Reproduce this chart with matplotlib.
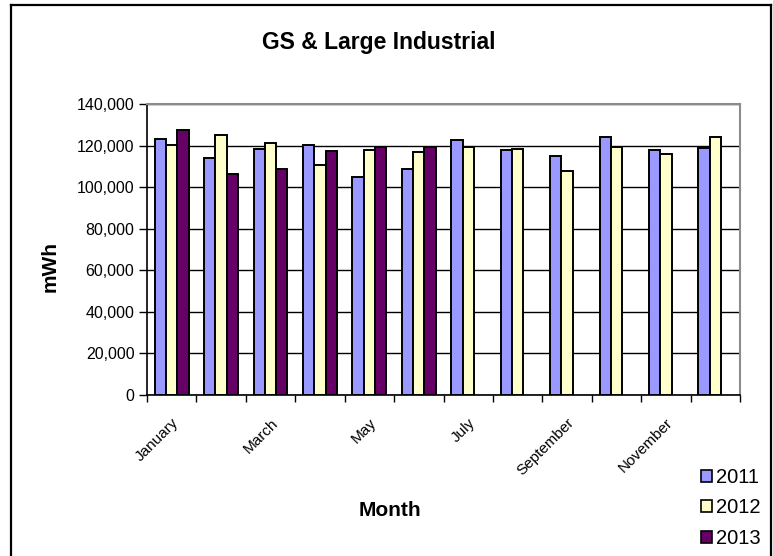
import numpy as np
import matplotlib
matplotlib.use('Agg')
from matplotlib import pyplot as plt
from matplotlib.patches import Patch
from matplotlib.lines import Line2D
from matplotlib.ticker import FuncFormatter
import matplotlib.transforms as mtransforms

plt.rcParams['font.family'] = ['Liberation Sans', 'DejaVu Sans']

months = ['January', 'February', 'March', 'April', 'May', 'June',
          'July', 'August', 'September', 'October', 'November', 'December']
tick_labels = ['January', '', 'March', '', 'May', '', 'July', '', 'September', '', 'November', '']

mwh_2011 = [123000, 113800, 118300, 120300, 104800, 108500, 122700, 117900, 115200, 123900, 117900, 118700]
mwh_2012 = [120500, 125100, 121000, 110700, 117800, 116700, 119400, 118400, 107700, 119400, 116000, 124300]
mwh_2013 = [127400, 106200, 108600, 117300, 119400, 119400]

years = ['2011', '2012', '2013']
colors = ['#9999FF', '#FFFFCC', '#660066']

fig = plt.figure(figsize=(7.73, 5.56), dpi=100)
ax = fig.add_axes([147 / 773, 1 - 395 / 556, (740 - 147) / 773, (395 - 104) / 556])

w = 0.228
x = np.arange(len(months))
series = [mwh_2011, mwh_2012, mwh_2013]
for i, vals in enumerate(series):
    xs = x[:len(vals)] + (i - 1) * w
    ax.bar(xs, vals, width=w, color=colors[i], edgecolor='black', linewidth=1.4, zorder=3)

ax.set_xlim(-0.5, 11.5)
ax.set_ylim(0, 140000)
ax.set_yticks(np.arange(0, 140001, 20000))
ax.yaxis.set_major_formatter(FuncFormatter(lambda v, p: '{:,.0f}'.format(v)))
ax.grid(axis='y', color='black', linewidth=1, zorder=0)

ax.set_xticks(x)
ax.set_xticklabels(tick_labels, rotation=45, ha='right', va='top', rotation_mode='anchor', fontsize=11)
shift = mtransforms.ScaledTranslation(-4 / 100, 0, fig.dpi_scale_trans)
for lbl in ax.get_xticklabels():
    lbl.set_transform(lbl.get_transform() + shift)
ax.set_xticks(np.arange(-0.5, 12, 1), minor=True)
ax.tick_params(axis='x', which='major', length=0, pad=15)
ax.tick_params(axis='x', which='minor', length=5, width=1, direction='out')
ax.tick_params(axis='y', length=6, width=1, direction='out', labelsize=11.5, pad=3)

for s in ['left', 'bottom']:
    ax.spines[s].set_color('black')
    ax.spines[s].set_linewidth(1.2)
for s in ['top', 'right']:
    ax.spines[s].set_color('#8c8c8c')
    ax.spines[s].set_linewidth(1.5)

fig.text(379 / 773, 1 - 42 / 556, 'GS & Large Industrial', ha='center', va='center',
         fontsize=16.5, fontweight='bold')
fig.text(50 / 773, 1 - 266 / 556, 'mWh', ha='center', va='center', rotation=90,
         fontsize=15, fontweight='bold')
fig.text(390 / 773, 1 - 510 / 556, 'Month', ha='center', va='center',
         fontsize=15, fontweight='bold')

handles = [Patch(facecolor=c, edgecolor='black', linewidth=1.2) for c in colors]
fig.legend(handles, years, loc='upper left', bbox_to_anchor=(701 / 773, 1 - 468 / 556),
           frameon=False, fontsize=14.5, handlelength=0.55, handleheight=0.55,
           handletextpad=0.2, labelspacing=0.57, borderaxespad=0, borderpad=0)

# outer chart border
for xs_, ys_ in [([11, 11], [556, 5]), ([11, 771], [5, 5]), ([771, 771], [5, 556])]:
    fig.add_artist(Line2D([v / 773 for v in xs_], [1 - v / 556 for v in ys_],
                          color='black', linewidth=1.6))

fig.savefig('out.png', dpi=100)
